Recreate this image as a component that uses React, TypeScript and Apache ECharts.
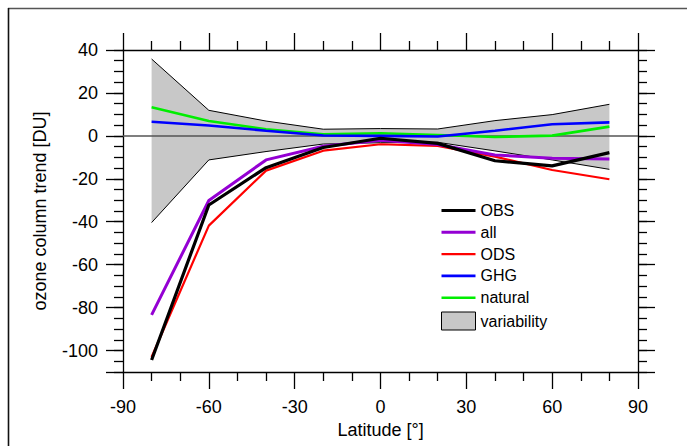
import React, { useEffect, useRef } from "react";
import * as echarts from "echarts";

const latitudes = [-80, -60, -40, -20, 0, 20, 40, 60, 80];
const obs = [-104.4, -32.2, -14.8, -5.4, -1.1, -3.5, -11.6, -14.0, -7.8];
const allForcing = [-83.4, -30.1, -11.2, -4.8, -2.0, -4.0, -8.9, -10.4, -10.8];
const ods = [-103.0, -41.8, -16.2, -6.9, -3.9, -4.7, -9.7, -15.9, -20.2];
const ghg = [6.6, 4.8, 2.4, 0.2, 0.0, -0.3, 2.4, 5.4, 6.3];
const natural = [13.3, 6.9, 3.1, 0.7, 1.2, 0.4, -0.5, 0.1, 4.3];
const varHigh = [35.8, 11.9, 6.9, 3.1, 3.4, 3.2, 7.1, 9.9, 14.7];
const varLow = [-40.4, -11.2, -7.3, -3.8, -3.2, -3.0, -7.0, -11.2, -15.6];
const yMajorTicks = [40, 20, 0, -20, -40, -60, -80, -100, -110];
const yLabels = [40, 20, 0, -20, -40, -60, -80, -100];

const FONT = "'Liberation Sans', Arial, sans-serif";

export default function App() {
  const ref = useRef<HTMLDivElement>(null);
  useEffect(() => {
    document.body.style.margin = "0";
    const chart = echarts.init(ref.current!, null, { renderer: "svg" });
    const pair = (ys: number[]) => latitudes.map((x, i) => [x, ys[i]]);
    const lineSeries = (name: string, ys: number[], color: string, width: number) => ({
      type: "line",
      name,
      data: pair(ys),
      symbol: "none",
      showSymbol: false,
      lineStyle: { color, width },
      itemStyle: { color },
      xAxisIndex: 0,
      yAxisIndex: 0,
      z: 5,
    });
    const axisLineStyle = { color: "#000", width: 1.3 };
    const xBase = (position: string, showLabel: boolean) => ({
      type: "value",
      position,
      min: -90,
      max: 90,
      interval: 30,
      axisLine: { show: true, onZero: false, lineStyle: axisLineStyle },
      axisTick: { show: true, length: 17, inside: false, lineStyle: { color: "#000", width: 1.3 } },
      minorTick: { show: true, splitNumber: 3, length: 9, lineStyle: { color: "#000", width: 1.3 } },
      splitLine: { show: false },
      axisLabel: {
        show: showLabel,
        fontSize: 18,
        color: "#000",
        fontFamily: FONT,
        margin: 26,
      },
    });
    const yMinor = (position: string) => ({
      type: "value",
      position,
      min: -110,
      max: 40,
      interval: 5,
      axisLine: { show: true, onZero: false, lineStyle: axisLineStyle },
      axisTick: { show: true, length: 9, inside: false, lineStyle: { color: "#000", width: 1.3 } },
      axisLabel: { show: false },
      splitLine: { show: false },
    });
    const yMajor = (position: string, showLabel: boolean) => ({
      type: "value",
      position,
      min: -110,
      max: 40,
      axisLine: { show: false, onZero: false },
      axisTick: {
        show: true,
        length: 17,
        inside: false,
        customValues: yMajorTicks,
        lineStyle: { color: "#000", width: 1.3 },
      },
      axisLabel: {
        show: showLabel,
        customValues: yLabels,
        fontSize: 18,
        color: "#000",
        fontFamily: FONT,
        margin: 25,
      },
      splitLine: { show: false },
      name: showLabel ? "ozone column trend [DU]" : "",
      nameLocation: "middle",
      nameGap: 74,
      nameTextStyle: { fontSize: 18, color: "#000", fontFamily: FONT },
    });
    const lineIcon = (h: number) => `path://M0,0H34V${h}H0Z`;

    chart.setOption({
      animation: false,
      backgroundColor: "#fff",
      textStyle: { fontFamily: FONT },
      grid: { left: 123, right: 49, top: 50, bottom: 74, containLabel: false },
      xAxis: [
        {
          ...xBase("bottom", true),
          name: "Latitude [°]",
          nameLocation: "middle",
          nameGap: 40,
          nameTextStyle: { fontSize: 18, color: "#000", fontFamily: FONT },
        },
        xBase("top", false),
      ],
      yAxis: [yMinor("left"), yMajor("left", true), yMinor("right"), yMajor("right", false)],
      legend: {
        orient: "vertical",
        left: 436,
        top: 197.5,
        itemWidth: 34,
        itemHeight: 18,
        itemGap: 5.8,
        textStyle: { fontSize: 16, color: "#000", fontFamily: FONT },
        data: [
          { name: "OBS", icon: lineIcon(3.2) },
          { name: "all", icon: lineIcon(3) },
          { name: "ODS", icon: lineIcon(2.4) },
          { name: "GHG", icon: lineIcon(2.6) },
          { name: "natural", icon: lineIcon(2.6) },
          {
            name: "variability",
            icon: "rect",
            itemStyle: { color: "#c8c8c8", borderColor: "#000", borderWidth: 1 },
          },
        ],
      },
      graphic: [
        {
          type: "line",
          shape: { x1: 8, y1: 8.5, x2: 687, y2: 8.5 },
          style: { stroke: "#555", lineWidth: 1.6 },
          silent: true,
        },
        {
          type: "line",
          shape: { x1: 8.5, y1: 8, x2: 8.5, y2: 446 },
          style: { stroke: "#111", lineWidth: 1.6 },
          silent: true,
        },
      ],
      series: [
        {
          type: "custom",
          name: "variability",
          xAxisIndex: 0,
          yAxisIndex: 0,
          data: latitudes.map((x, i) => [x, varLow[i], varHigh[i]]),
          encode: { x: 0, y: [1, 2] },
          itemStyle: { color: "#c8c8c8", borderColor: "#000", borderWidth: 1 },
          z: 1,
          renderItem: (params: any, api: any) => {
            if (params.dataIndex !== 0) return { type: "group", children: [] };
            const pts: number[][] = [];
            for (let i = 0; i < latitudes.length; i++) pts.push(api.coord([latitudes[i], varHigh[i]]));
            for (let i = latitudes.length - 1; i >= 0; i--) pts.push(api.coord([latitudes[i], varLow[i]]));
            return { type: "polygon", shape: { points: pts }, style: { fill: "#c8c8c8" } };
          },
        },
        {
          type: "line",
          name: "varHighEdge",
          data: pair(varHigh),
          symbol: "none",
          lineStyle: { color: "#000", width: 1 },
          z: 2,
          markLine: {
            silent: true,
            symbol: ["none", "none"],
            label: { show: false },
            lineStyle: { color: "#555", width: 1.6, type: "solid" },
            data: [{ yAxis: 0 }],
          },
        },
        {
          type: "line",
          name: "varLowEdge",
          data: pair(varLow),
          symbol: "none",
          lineStyle: { color: "#000", width: 1 },
          z: 2,
        },
        lineSeries("natural", natural, "#00ee00", 2.6),
        lineSeries("GHG", ghg, "#0000ff", 2.6),
        lineSeries("ODS", ods, "#ff0000", 2.2),
        lineSeries("all", allForcing, "#9400d3", 3),
        lineSeries("OBS", obs, "#000000", 3.2),
      ],
    });
    return () => chart.dispose();
  }, []);
  return <div ref={ref} style={{ width: 687, height: 446 }} />;
}
